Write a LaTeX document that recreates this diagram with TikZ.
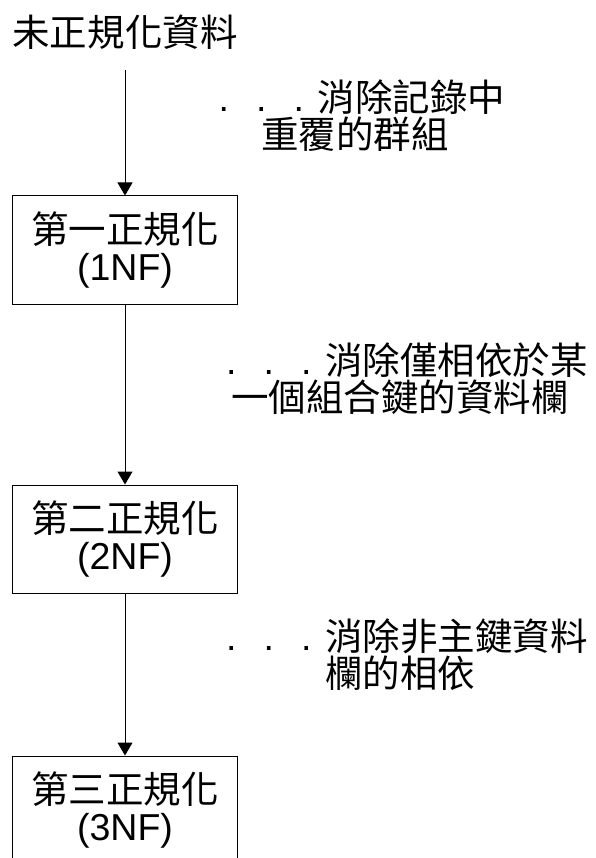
\documentclass[tikz,border=0pt]{standalone}
\usepackage{fontspec}
\setmainfont{Liberation Sans}
\newfontfamily\cjk{Noto Sans CJK TC}
\usetikzlibrary{positioning,arrows.meta}
\newcommand\dotcells{\makebox[1em]{\normalfont.}\makebox[1em]{\normalfont.}\makebox[1em]{\normalfont.}}

\begin{document}
\begin{tikzpicture}[x=1pt,y=-1pt,
        every node/.style={font=\fontsize{37.5}{37}\selectfont},
        nfbox/.style={draw, line width=1pt, minimum width=225pt, minimum height=108pt, inner sep=0pt, align=center},
        note/.style={inner sep=0pt, align=center, font=\fontsize{37.5}{37}\selectfont\cjk},
        flow/.style={-{Triangle[width=15pt,length=13pt]}, line width=1pt}]
        \useasboundingbox (0,0) rectangle (596,858);
        \clip (0,0) rectangle (596,858);
        % steps of the normalisation
        \node[inner sep=0pt, font=\fontsize{37.5}{37}\selectfont\cjk] (raw) at (125,32) {未正規化資料};
        \node[nfbox] (nf1) at (125,250) {{\cjk 第一正規化}\\(1NF)};
        \node[nfbox] (nf2) at (125,539) {{\cjk 第二正規化}\\(2NF)};
        \node[nfbox] (nf3) at (125,810) {{\cjk 第三正規化}\\(3NF)};
        % what each step removes
        \node[note] (why1) at (355,116) {\dotcells 消除記錄中\\重覆的群組};
        \node[note] (why2) at (400,379) {\dotcells 消除僅相依於某\\一個組合鍵的資料欄};
        \node[note] (why3) at (400,655) {\dotcells 消除非主鍵資料\\欄的相依};
        \coordinate (start) at (125,70);
        \draw[flow] (start) -- (nf1);
        \draw[flow] (nf1) -- (nf2);
        \draw[flow] (nf2) -- (nf3);
    \end{tikzpicture}
\end{document}
